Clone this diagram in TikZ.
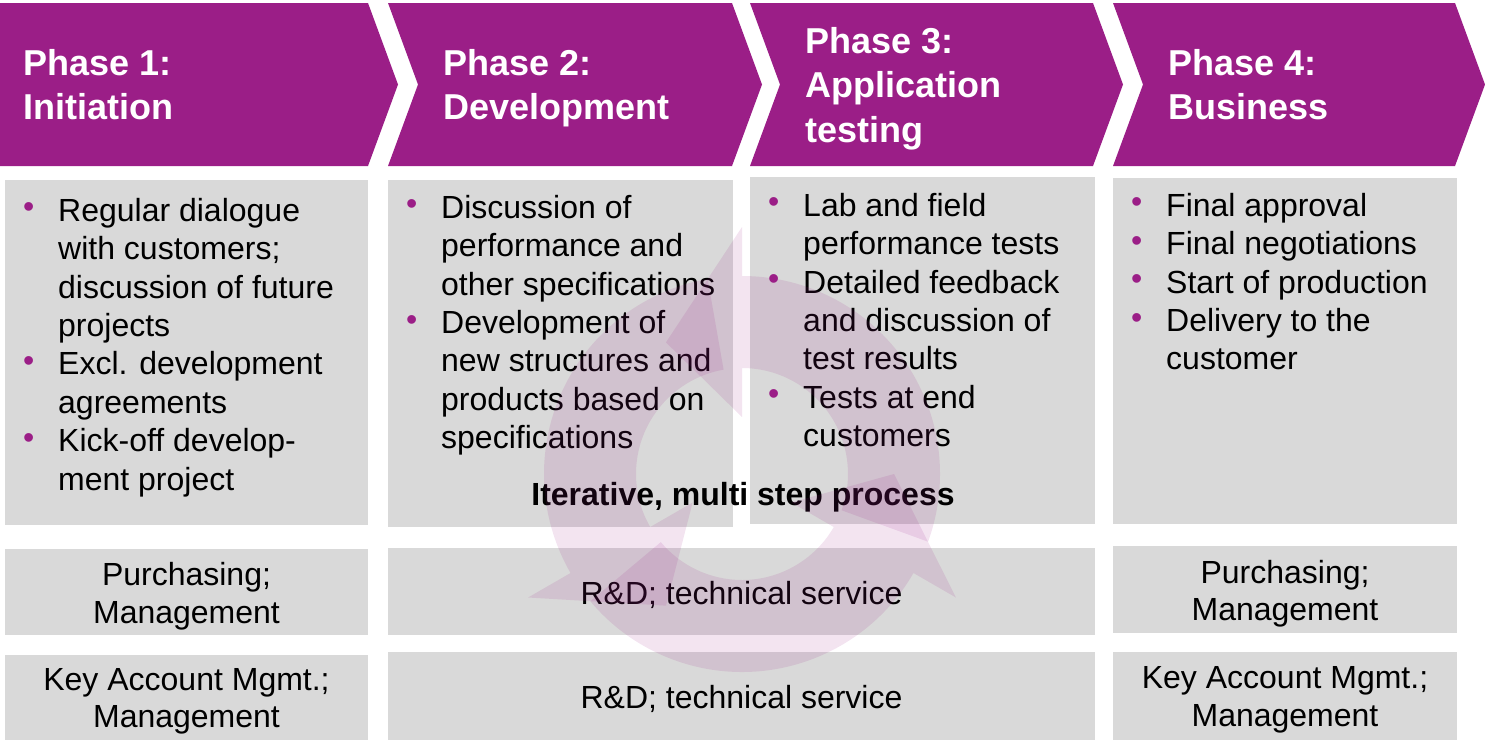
\documentclass[tikz,border=0pt]{standalone}
\usepackage{fontspec}
\setmainfont{Liberation Sans}
\usepackage{xcolor}
\usepackage{tikz}

\definecolor{phasepurple}{RGB}{155,30,135}
\definecolor{boxgray}{RGB}{217,217,217}
\newcommand{\phbullet}{\makebox[35pt][l]{\raisebox{3.5pt}{\textcolor{phasepurple}{\textbullet}}}}
\newcommand{\phindent}{\makebox[35pt]{}}

\begin{document}
\begin{tikzpicture}[x=1pt,y=-1pt,
  phase/.style={fill=phasepurple},
  phasetext/.style={anchor=north west,inner sep=0pt,align=left,text=white,
                    font=\fontsize{36}{44.5}\selectfont\bfseries},
  panel/.style={fill=boxgray,inner sep=0pt,anchor=north west},
  listtext/.style={anchor=north west,inner sep=0pt,align=left,
                   font=\fontsize{32}{38.4}\selectfont},
  rolebox/.style={fill=boxgray,inner sep=0pt},
  roletext/.style={inner sep=0pt,align=center,font=\fontsize{32}{37.5}\selectfont},
  cyclearrow/.style={fill=phasepurple,fill opacity=0.12}]

  \useasboundingbox (0,0) rectangle (1485,740);

  \fill[phase] (0,3) -- (368,3) -- (398,84.5) -- (368,166) -- (0,166) -- cycle;
  \foreach \l/\r in {388/732,750/1093,1113/1455}
    \fill[phase] (\l,3) -- (\r,3) -- (\r+30,84.5) -- (\r,166) -- (\l,166) -- (\l+30,84.5) -- cycle;

  \node[phasetext] (ph1) at (23,49) {Phase 1:\\Initiation};
  \node[phasetext] (ph2) at (443,49)  {Phase 2:\\Development};
  \node[phasetext] (ph3) at (805,27)  {Phase 3:\\Application\\testing};
  \node[phasetext] (ph4) at (1168,49) {Phase 4:\\Business};

  \node[panel,minimum width=363pt,minimum height=345pt] (act1) at (5,180)    {};
  \node[panel,minimum width=345pt,minimum height=347pt] (act2) at (388,180)  {};
  \node[panel,minimum width=345pt,minimum height=347pt] (act3) at (750,177)  {};
  \node[panel,minimum width=344pt,minimum height=346pt] (act4) at (1113,178) {};

  \node[listtext] (list1) at (23,198) {\phbullet Regular dialogue\\\phindent with customers;\\
    \phindent discussion of future\\\phindent projects\\\phbullet Excl. development\\
    \phindent agreements\\\phbullet Kick-off develop-\\\phindent ment project};
  \node[listtext] (list2) at (406,195) {\phbullet Discussion of\\\phindent performance and\\
    \phindent other specifications\\\phbullet Development of\\\phindent new structures and\\
    \phindent products based on\\\phindent specifications};
  \node[listtext] (list3) at (768,193) {\phbullet Lab and field\\\phindent performance tests\\
    \phbullet Detailed feedback\\\phindent and discussion of\\\phindent test results\\
    \phbullet Tests at end\\\phindent customers};
  \node[listtext] (list4) at (1131,193) {\phbullet Final approval\\\phbullet Final negotiations\\
    \phbullet Start of production\\\phbullet Delivery to the\\\phindent customer};

  \node[font=\fontsize{32}{38}\selectfont\bfseries,inner sep=0pt] (iter) at (743,497)
    {Iterative, multi step process};

  \node[rolebox,minimum width=363pt,minimum height=86pt] (buy1)  at (186.5,592)  {};
  \node[rolebox,minimum width=707pt,minimum height=87pt] (buyrd) at (741.5,591.5) {};
  \node[rolebox,minimum width=344pt,minimum height=87pt] (buy4)  at (1285,589.5) {};
  \node[rolebox,minimum width=363pt,minimum height=85pt] (sell1)  at (186.5,697.5) {};
  \node[rolebox,minimum width=707pt,minimum height=88pt] (sellrd) at (741.5,696)   {};
  \node[rolebox,minimum width=344pt,minimum height=88pt] (sell4)  at (1285,696)    {};

  \node[roletext] (buy1t)  at ([yshift=-4pt]buy1.center)   {Purchasing;\\Management};
  \node[roletext] (buyrdt) at ([yshift=-3pt]buyrd.center)  {R\&D; technical service};
  \node[roletext] (buy4t)  at ([yshift=-4pt]buy4.center)   {Purchasing;\\Management};
  \node[roletext] (sell1t)  at ([yshift=-4pt]sell1.center)  {Key Account Mgmt.;\\Management};
  \node[roletext] (sellrdt) at ([yshift=-3pt]sellrd.center) {R\&D; technical service};
  \node[roletext] (sell4t)  at ([yshift=-4pt]sell4.center)  {Key Account Mgmt.;\\Management};

  \begin{scope}[shift={(742,474)},yscale=-1]
    \foreach \a in {90,210,330}
      \fill[cyclearrow] ({\a-110}:198) arc[start angle=\a-110,end angle=\a,radius=198]
        -- (\a:247) -- ({\a+30}:152) -- (\a:57) -- (\a:106)
        arc[start angle=\a,end angle=\a-110,radius=106] -- cycle;
  \end{scope}
\end{tikzpicture}
\end{document}
